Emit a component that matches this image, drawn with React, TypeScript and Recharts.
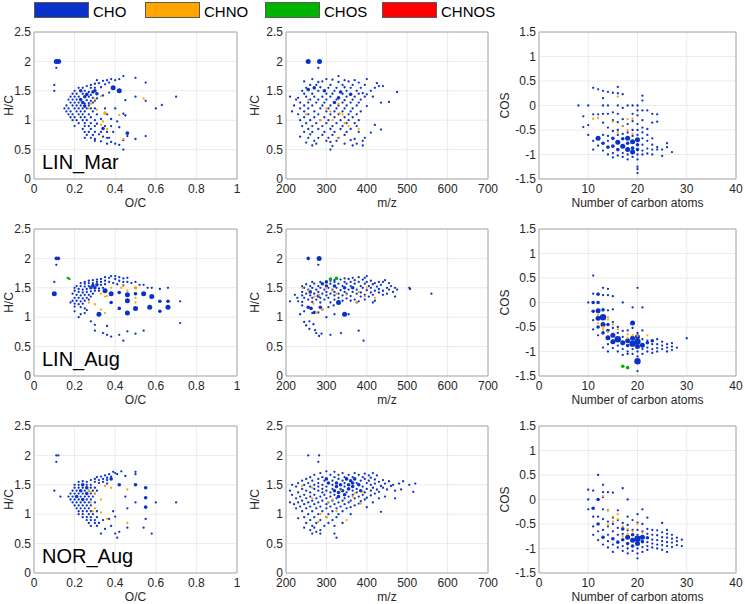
import React from 'react';
import { ScatterChart, Scatter, XAxis, YAxis, CartesianGrid, ReferenceArea } from 'recharts';

type Pt = number[]; // [x, y, sizeClass?]

// ---------- axes ----------
const ocTicks = [0, 0.2, 0.4, 0.6, 0.8, 1];
const hcTicks = [0, 0.5, 1, 1.5, 2, 2.5];
const mzTicks = [200, 300, 400, 500, 600, 700];
const cTicks = [0, 10, 20, 30, 40];
const cosTicks = [-1.5, -1, -0.5, 0, 0.5, 1, 1.5];

const sampleNames = ['LIN_Mar', 'LIN_Aug', 'NOR_Aug'];
const groupNames = ['CHO', 'CHNO', 'CHOS', 'CHNOS'];

// ---------- LIN_Mar ----------
const linMarVkCho: Pt[] = [
  [0.11, 2, 3], [0.12, 2, 3], [0.125, 2, 2], [0.11, 1.89], [0.1, 1.6], [0.1, 1.5],
  [0.22, 1.55], [0.24, 1.55],
  [0.2, 1.5], [0.23, 1.5, 2], [0.25, 1.5], [0.27, 1.48],
  [0.19, 1.45], [0.21, 1.45], [0.24, 1.45], [0.26, 1.44, 2], [0.28, 1.43],
  [0.18, 1.4], [0.2, 1.4], [0.22, 1.4], [0.25, 1.4, 2], [0.27, 1.4], [0.29, 1.38], [0.31, 1.37],
  [0.17, 1.35], [0.19, 1.35], [0.21, 1.35], [0.23, 1.35, 2], [0.26, 1.34], [0.28, 1.33], [0.3, 1.33],
  [0.18, 1.3], [0.2, 1.3], [0.22, 1.3], [0.24, 1.3, 2], [0.25, 1.28], [0.27, 1.29], [0.29, 1.3],
  [0.16, 1.25], [0.19, 1.25], [0.21, 1.25], [0.23, 1.25], [0.25, 1.24, 2], [0.27, 1.25],
  [0.15, 1.2], [0.17, 1.2], [0.2, 1.2], [0.22, 1.2], [0.24, 1.2], [0.26, 1.2], [0.28, 1.2], [0.3, 1.2],
  [0.16, 1.15], [0.18, 1.15], [0.21, 1.15], [0.23, 1.15], [0.25, 1.15], [0.29, 1.15],
  [0.17, 1.1], [0.19, 1.1], [0.22, 1.1], [0.24, 1.1], [0.27, 1.1], [0.31, 1.1],
  [0.18, 1.05], [0.2, 1.05], [0.23, 1.05], [0.25, 1.05], [0.28, 1.05],
  [0.19, 1], [0.21, 1], [0.24, 1], [0.26, 1], [0.3, 1], [0.33, 1.02],
  [0.22, 0.95], [0.25, 0.95], [0.28, 0.95], [0.31, 0.94],
  [0.2, 0.9], [0.25, 0.9], [0.27, 0.9], [0.3, 0.9], [0.35, 0.9],
  [0.24, 0.85], [0.28, 0.85], [0.34, 0.86, 2],
  [0.25, 0.8], [0.27, 0.8], [0.3, 0.8], [0.33, 0.8], [0.36, 0.8],
  [0.26, 0.75], [0.29, 0.75], [0.32, 0.76],
  [0.25, 0.7], [0.28, 0.7], [0.3, 0.68], [0.37, 0.7],
  [0.3, 0.65], [0.33, 0.64], [0.38, 0.63],
  [0.36, 0.6], [0.4, 0.6],
  [0.26, 1.58], [0.28, 1.6], [0.28, 1.55], [0.3, 1.62], [0.3, 1.55], [0.31, 1.68], [0.32, 1.63],
  [0.33, 1.56], [0.34, 1.67], [0.35, 1.61], [0.36, 1.68], [0.37, 1.64], [0.38, 1.7], [0.39, 1.55, 3],
  [0.4, 1.68], [0.42, 1.7], [0.42, 1.5, 3], [0.44, 1.75], [0.3, 1.5, 2], [0.31, 1.45, 2], [0.29, 1.48, 2],
  [0.34, 1.42], [0.37, 1.47],
  [0.35, 1.2], [0.36, 1.1], [0.38, 1.02], [0.4, 1.2], [0.41, 0.98], [0.42, 0.88], [0.38, 0.9],
  [0.39, 0.8], [0.34, 0.72], [0.36, 0.7],
  [0.5, 1.72], [0.55, 1.64], [0.5, 1.4], [0.55, 1.33], [0.6, 1.2], [0.63, 1.26], [0.7, 1.4],
  [0.45, 1.34], [0.44, 1.11], [0.45, 1.08], [0.46, 0.78, 2], [0.46, 0.73], [0.5, 0.68], [0.55, 0.73],
  [0.44, 0.5], [0.42, 0.58], [0.44, 0.66],
];
const linMarVkChno: Pt[] = [
  [0.28, 1.28], [0.31, 1.18], [0.33, 1.41], [0.34, 0.98], [0.33, 0.92], [0.35, 1.12, 2],
  [0.42, 1.09], [0.44, 0.68], [0.54, 1.37], [0.36, 0.85], [0.27, 1.2], [0.3, 1.35],
];
const linMarMzCho: Pt[] = [
  [255, 2, 3], [283, 2, 3], [280, 1.89],
  [330, 1.75],
  [265, 1.7], [300, 1.7], [315, 1.69], [345, 1.68], [370, 1.68], [400, 1.7],
  [245, 1.66], [280, 1.65], [290, 1.66], [330, 1.65], [355, 1.66], [380, 1.64], [425, 1.63],
  [260, 1.6], [275, 1.6], [310, 1.6], [340, 1.6], [365, 1.6], [395, 1.6], [430, 1.58], [440, 1.58],
  [250, 1.55], [270, 1.55, 2], [285, 1.56], [305, 1.55], [325, 1.55], [345, 1.56], [360, 1.55], [385, 1.55], [420, 1.55],
  [240, 1.5], [255, 1.52, 2], [280, 1.5], [295, 1.5, 2], [320, 1.5], [335, 1.48, 2], [350, 1.5], [375, 1.5], [390, 1.46], [410, 1.5], [475, 1.48],
  [245, 1.45], [265, 1.45], [300, 1.45], [315, 1.45], [340, 1.45], [360, 1.44, 2], [380, 1.45], [400, 1.44],
  [210, 1.4], [230, 1.38], [250, 1.4], [270, 1.4], [290, 1.4], [310, 1.4], [330, 1.38, 2], [350, 1.4], [370, 1.4], [395, 1.4], [415, 1.4],
  [225, 1.35], [260, 1.35], [280, 1.35], [300, 1.35], [325, 1.35], [345, 1.34], [365, 1.35], [385, 1.35],
  [235, 1.3], [255, 1.3], [275, 1.3], [295, 1.3], [320, 1.3, 2], [340, 1.3], [360, 1.3], [380, 1.3], [435, 1.3], [455, 1.31],
  [220, 1.25], [245, 1.25], [265, 1.25], [290, 1.25], [310, 1.25], [330, 1.25], [350, 1.25], [375, 1.25], [400, 1.24],
  [235, 1.2], [255, 1.2], [285, 1.2], [305, 1.2], [325, 1.2], [345, 1.2], [365, 1.2],
  [215, 1.15], [245, 1.15], [270, 1.15], [300, 1.15], [320, 1.15], [340, 1.15], [360, 1.15], [385, 1.15],
  [230, 1.1], [255, 1.1], [280, 1.1], [310, 1.1], [330, 1.1], [355, 1.1], [375, 1.1],
  [245, 1.05], [270, 1.05], [295, 1.05], [320, 1.05], [345, 1.05], [365, 1.05],
  [235, 1], [260, 1], [285, 1], [305, 1], [335, 1], [355, 1], [380, 1],
  [250, 0.95], [275, 0.95], [300, 0.95], [325, 0.95], [350, 0.95], [370, 0.95],
  [240, 0.9], [265, 0.9], [290, 0.9], [315, 0.9], [340, 0.9], [375, 0.9], [420, 0.92],
  [255, 0.85], [280, 0.85], [310, 0.85], [335, 0.85], [360, 0.85], [435, 0.84],
  [245, 0.8], [265, 0.8], [295, 0.8], [320, 0.8], [350, 0.8], [380, 0.8], [410, 0.79],
  [260, 0.76], [290, 0.75], [315, 0.75], [345, 0.75],
  [235, 0.72], [255, 0.7], [280, 0.7], [305, 0.7], [330, 0.7], [370, 0.68], [395, 0.7],
  [270, 0.65], [300, 0.65], [325, 0.65], [360, 0.66], [390, 0.65],
  [250, 0.62], [275, 0.6], [310, 0.63], [345, 0.6], [375, 0.6],
  [265, 0.57], [315, 0.56], [365, 0.57], [390, 0.57],
  [310, 0.5],
];
const linMarMzChno: Pt[] = [
  [255, 1.35], [250, 1.1], [285, 1], [300, 1.2], [310, 1.15], [330, 1.28], [333, 1.12],
  [340, 1.1], [345, 0.95], [355, 0.9], [380, 0.85], [328, 0.7], [315, 1],
];
const linMarCCho: Pt[] = [
  [8, 0], [9, -0.22], [9, -0.44], [10, 0], [10, -0.4], [10, -0.6],
  [11, 0.36], [11, -0.18], [11, -0.9], [11, -0.72],
  [12, 0.33], [12, -0.18], [12, -0.67, 3], [12, -0.82],
  [13, 0.3], [13, 0.15], [13, 0], [13, -0.17], [13, -0.35], [13, -0.6], [13, -0.77, 2], [13, -0.92],
  [14, 0.28], [14, 0], [14, -0.17], [14, -0.45], [14, -0.62], [14, -0.72], [14, -0.85, 2], [14, -1],
  [15, 0.26], [15, -0.14], [15, -0.3], [15, -0.52], [15, -0.67, 2], [15, -0.83, 2], [15, -0.97], [15, -1.06],
  [16, 0.38], [16, 0.25], [16, 0], [16, -0.17], [16, -0.34], [16, -0.5], [16, -0.6], [16, -0.75, 3], [16, -0.9, 2], [16, -1.02],
  [17, 0.23], [17, -0.05], [17, -0.28], [17, -0.42], [17, -0.58], [17, -0.68, 2], [17, -0.83, 3], [17, -0.97], [17, -1.05],
  [18, 0], [18, -0.38], [18, -0.55], [18, -0.67, 3], [18, -0.77, 2], [18, -0.9, 3], [18, -1], [18, -1.1],
  [19, 0], [19, -0.17], [19, -0.32], [19, -0.5], [19, -0.62], [19, -0.74, 3], [19, -0.87, 2], [19, -0.95, 3], [19, -1.05],
  [20, 0], [20, -0.1], [20, -0.2], [20, -0.38], [20, -0.5], [20, -0.6], [20, -0.7, 3], [20, -0.8, 2], [20, -0.9, 2],
  [20, -1], [20, -1.1], [20, -1.25], [20, -1.3], [20, -1.38],
  [21, 0.2], [21, 0.1], [21, -0.1], [21, -0.3], [21, -0.45], [21, -0.55], [21, -0.67], [21, -0.8], [21, -0.92], [21, -1],
  [22, -0.1], [22, -0.48], [22, -0.6], [22, -0.72], [22, -0.88], [22, -0.98],
  [23, -0.17], [23, -0.35], [23, -0.67], [23, -0.8], [23, -0.9], [23, -1],
  [24, -0.18], [24, -0.33], [24, -0.85], [24, -0.9],
  [25, -0.9], [25, -1.03], [26, -0.77], [26, -0.85], [27, -0.95],
];
const linMarCChno: Pt[] = [
  [11, -0.27], [12, -0.25], [15, -0.33], [16, 0.18], [17, -0.42], [18, -0.28], [18, -0.5],
  [19, -0.27], [16, -0.55], [19, -0.58],
];

// ---------- LIN_Aug ----------
const linAugVkCho: Pt[] = [
  [0.11, 2, 2], [0.12, 2, 2], [0.11, 1.89], [0.1, 1.6], [0.1, 1.4, 3],
  [0.25, 1.6], [0.27, 1.62], [0.29, 1.63], [0.31, 1.64], [0.33, 1.65],
  [0.23, 1.58], [0.25, 1.57], [0.27, 1.58], [0.29, 1.58], [0.31, 1.6], [0.33, 1.6], [0.35, 1.62],
  [0.21, 1.53], [0.23, 1.53], [0.25, 1.52], [0.27, 1.53], [0.29, 1.54, 2], [0.31, 1.55, 2], [0.33, 1.55], [0.35, 1.56],
  [0.2, 1.5], [0.22, 1.48], [0.24, 1.47], [0.26, 1.48], [0.28, 1.5, 2], [0.3, 1.5, 2], [0.32, 1.49], [0.34, 1.5],
  [0.2, 1.45], [0.22, 1.43], [0.24, 1.42], [0.26, 1.43], [0.28, 1.44], [0.3, 1.45], [0.32, 1.45],
  [0.19, 1.4], [0.21, 1.38], [0.23, 1.37], [0.25, 1.38], [0.27, 1.38], [0.29, 1.4],
  [0.2, 1.33], [0.22, 1.33], [0.24, 1.32], [0.26, 1.33], [0.28, 1.35],
  [0.19, 1.28], [0.21, 1.28], [0.23, 1.27], [0.25, 1.28], [0.27, 1.3],
  [0.18, 1.25], [0.2, 1.23], [0.22, 1.22], [0.24, 1.23],
  [0.2, 1.18], [0.23, 1.17], [0.25, 1.15],
  [0.35, 1.68], [0.37, 1.67], [0.38, 1.7], [0.4, 1.7], [0.42, 1.68], [0.44, 1.66], [0.46, 1.67],
  [0.4, 1.65], [0.42, 1.62], [0.44, 1.6], [0.46, 1.6], [0.48, 1.58], [0.5, 1.6], [0.52, 1.55],
  [0.54, 1.55], [0.56, 1.5], [0.58, 1.5], [0.62, 1.48], [0.66, 1.5], [0.37, 1.6], [0.39, 1.58],
  [0.41, 1.56], [0.44, 1.54],
  [0.35, 1.45, 3], [0.38, 1.4, 3], [0.42, 1.42, 2], [0.46, 1.38, 3], [0.46, 1.28, 3], [0.5, 1.4, 2],
  [0.54, 1.4, 3], [0.58, 1.35, 3], [0.5, 1.15, 3], [0.46, 1.07, 3], [0.42, 1.15, 2], [0.38, 1.25, 2],
  [0.32, 1.05, 3], [0.57, 1.17, 3], [0.66, 1.17, 3], [0.62, 1.27, 2], [0.66, 1.27, 2], [0.62, 1.1, 2],
  [0.72, 1.27], [0.72, 0.9],
  [0.22, 1], [0.25, 1.07], [0.28, 0.93], [0.3, 0.87], [0.3, 0.77], [0.34, 0.73], [0.36, 0.7],
  [0.38, 0.67], [0.42, 0.7], [0.44, 0.6], [0.46, 0.76], [0.5, 0.72], [0.54, 0.77], [0.36, 0.85],
  [0.2, 1.1], [0.23, 1.05], [0.26, 1.12],
];
const linAugVkChno: Pt[] = [
  [0.27, 1.25], [0.3, 1.22], [0.33, 1.4], [0.35, 1.35], [0.36, 1.36], [0.33, 1.13], [0.35, 1.07],
  [0.43, 1.5], [0.46, 1.45], [0.5, 1.5, 2], [0.5, 1.25], [0.5, 1.33], [0.44, 1.53], [0.38, 1.5],
];
const linAugVkChos: Pt[] = [[0.165, 1.67], [0.17, 1.66], [0.175, 1.65]];
const linAugMzCho: Pt[] = [
  [255, 2, 2], [282, 2, 3], [280, 1.89],
  [380, 1.68], [395, 1.67], [400, 1.7],
  [345, 1.66], [355, 1.65], [365, 1.67],
  [310, 1.62], [320, 1.63], [335, 1.64], [370, 1.63], [390, 1.64], [410, 1.62], [430, 1.6], [445, 1.63],
  [265, 1.6], [285, 1.6], [300, 1.6, 2], [320, 1.6], [345, 1.6], [360, 1.6], [380, 1.6], [400, 1.6], [420, 1.58], [440, 1.6], [455, 1.58],
  [250, 1.56], [270, 1.57], [290, 1.57, 2], [310, 1.57], [330, 1.57], [350, 1.57], [370, 1.57], [395, 1.57], [415, 1.56], [435, 1.55], [460, 1.53],
  [240, 1.53], [260, 1.53], [280, 1.53], [300, 1.53, 2], [320, 1.53, 2], [340, 1.53], [360, 1.53], [385, 1.53], [405, 1.53], [425, 1.52], [450, 1.5], [470, 1.5],
  [245, 1.5], [265, 1.5], [285, 1.5], [305, 1.5], [325, 1.5], [345, 1.5, 2], [365, 1.5, 2], [390, 1.5], [410, 1.5], [430, 1.48], [455, 1.47], [475, 1.47],
  [255, 1.47], [275, 1.47], [295, 1.47], [315, 1.47], [335, 1.46], [355, 1.47], [375, 1.47], [400, 1.46], [420, 1.45], [440, 1.45], [465, 1.43],
  [240, 1.43], [260, 1.43, 2], [280, 1.43], [300, 1.43], [320, 1.43], [345, 1.43], [365, 1.43], [385, 1.42], [410, 1.42], [430, 1.42], [450, 1.4],
  [250, 1.4], [270, 1.4], [290, 1.4], [310, 1.4], [330, 1.4], [350, 1.4], [375, 1.4], [395, 1.38], [415, 1.38], [440, 1.38], [470, 1.35],
  [240, 1.37], [260, 1.37], [280, 1.36, 2], [300, 1.37], [320, 1.37], [340, 1.37], [360, 1.36], [385, 1.35], [405, 1.35],
  [245, 1.33], [265, 1.33], [285, 1.33], [305, 1.33], [330, 1.33], [350, 1.32], [370, 1.3], [395, 1.3], [420, 1.28],
  [255, 1.3], [275, 1.3], [295, 1.3], [320, 1.3], [340, 1.28], [360, 1.28], [380, 1.27],
  [240, 1.26], [265, 1.26], [285, 1.25], [310, 1.25], [330, 1.25, 3], [375, 1.25], [415, 1.25],
  [240, 1.2], [245, 1.1], [235, 1.05], [245, 0.92], [250, 0.86], [258, 0.93], [258, 0.8], [265, 1.07],
  [268, 0.88], [272, 0.78], [275, 0.73], [282, 0.68], [288, 0.72], [300, 1], [310, 0.7], [336, 0.73],
  [380, 0.77], [392, 0.6], [320, 1.05], [345, 1.05, 3], [355, 1.05], [270, 1.08, 2], [262, 1.15, 2],
  [285, 1.17, 2], [255, 1.17, 2], [305, 1.17], [318, 1.2], [290, 1.13], [280, 1.08],
  [505, 1.5], [507, 1.48], [560, 1.4], [210, 1.27], [222, 1.38], [230, 1.27], [228, 1.33],
];
const linAugMzChno: Pt[] = [
  [255, 1.45], [270, 1.35], [275, 1.08], [290, 1.13], [268, 1.23], [300, 1.5], [315, 1.45], [325, 1.4],
  [350, 1.38], [375, 1.25], [395, 1.35], [400, 1.5], [420, 1.33], [380, 1.43], [240, 1.5], [282, 1.37],
];
const linAugMzChos: Pt[] = [[310, 1.65, 2], [325, 1.66, 2]];
const linAugCCho: Pt[] = [
  [10, 0],
  [11, 0.55], [11, 0.18], [11, 0, 2], [11, -0.18, 2], [11, -0.36], [11, -0.55],
  [12, 0.17, 2], [12, 0, 2], [12, -0.17, 3], [12, -0.32, 3], [12, -0.5, 2], [12, -0.67],
  [13, 0.3], [13, 0.15], [13, -0.15, 2], [13, -0.3, 4], [13, -0.45, 3], [13, -0.62, 2], [13, -0.92],
  [14, 0.28], [14, 0.15], [14, -0.16], [14, -0.45, 2], [14, -0.57, 2], [14, -0.72, 3], [14, -0.85], [14, -1],
  [15, 0.13], [15, -0.14], [15, -0.4], [15, -0.52], [15, -0.67, 3], [15, -0.8, 3], [15, -0.93],
  [16, -0.5], [16, -0.62], [16, -0.75, 4], [16, -0.88], [16, -1],
  [17, 0], [17, -0.58], [17, -0.7], [17, -0.82, 3], [17, -0.95], [17, -1.07],
  [18, -0.57], [18, -0.78, 3], [18, -0.88, 2], [18, -1], [18, -1.05],
  [19, -0.1], [19, -0.42, 3], [19, -0.52], [19, -0.73, 3], [19, -0.84, 4], [19, -0.95], [19, -1.05],
  [20, 0.3], [20, -0.62], [20, -0.7, 3], [20, -0.8, 4], [20, -0.9, 3], [20, -1], [20, -1.1], [20, -1.2, 4], [20, -1.4],
  [21, -0.1], [21, -0.57], [21, -0.75], [21, -0.87, 3], [21, -0.95], [21, -1.05],
  [22, -0.78], [22, -0.82, 2], [22, -0.92], [22, -1],
  [23, -0.78, 2], [23, -0.85], [23, -0.95], [23, -1.03],
  [24, -0.75], [24, -0.85], [24, -0.93], [24, -1],
  [25, -0.8], [25, -0.88], [25, -0.95],
  [26, -0.85], [26, -0.92], [26, -1],
  [27, -0.83], [27, -0.9], [27, -0.97],
  [28, -0.92], [30, -0.73],
];
const linAugCChno: Pt[] = [
  [12, -0.25], [12, -0.42], [13, -0.5], [14, -0.3], [14, -0.35], [15, -0.45], [16, -0.55],
  [18, -0.65], [18, -0.72], [19, -0.67], [20, -0.68], [22, -0.67], [13, -0.55], [14, -0.6],
];
const linAugCChos: Pt[] = [[17, -1.3, 2], [18, -1.33, 2]];

// ---------- NOR_Aug ----------
const norVkCho: Pt[] = [
  [0.11, 2], [0.12, 2], [0.11, 1.89], [0.1, 1.4], [0.13, 1.3],
  [0.22, 1.55], [0.24, 1.56], [0.26, 1.55],
  [0.2, 1.5], [0.22, 1.5], [0.24, 1.5, 2], [0.26, 1.5], [0.28, 1.5],
  [0.2, 1.45], [0.22, 1.45], [0.24, 1.45], [0.26, 1.45, 2], [0.28, 1.45], [0.3, 1.45],
  [0.19, 1.4], [0.21, 1.4], [0.23, 1.4, 2], [0.25, 1.4], [0.27, 1.4], [0.29, 1.4], [0.31, 1.4],
  [0.18, 1.35], [0.2, 1.35], [0.22, 1.35], [0.24, 1.35], [0.26, 1.35, 2], [0.28, 1.35], [0.3, 1.35],
  [0.17, 1.3], [0.19, 1.3], [0.21, 1.3, 2], [0.23, 1.3], [0.25, 1.3], [0.27, 1.3], [0.29, 1.3],
  [0.18, 1.25], [0.2, 1.25], [0.22, 1.25], [0.24, 1.25, 2], [0.26, 1.25], [0.28, 1.25],
  [0.19, 1.2], [0.21, 1.2], [0.23, 1.2], [0.25, 1.2], [0.27, 1.2], [0.3, 1.2],
  [0.2, 1.15], [0.22, 1.15], [0.24, 1.15], [0.26, 1.15], [0.28, 1.15],
  [0.21, 1.1], [0.23, 1.1], [0.25, 1.1], [0.27, 1.1],
  [0.22, 1.05], [0.24, 1.05], [0.26, 1.05], [0.28, 1.05], [0.31, 1.05],
  [0.22, 1], [0.24, 1], [0.27, 1], [0.29, 1],
  [0.24, 0.95], [0.26, 0.95], [0.28, 0.95], [0.31, 0.95],
  [0.26, 0.9], [0.28, 0.9], [0.3, 0.9],
  [0.27, 0.85], [0.3, 0.85], [0.32, 0.85],
  [0.28, 0.8], [0.31, 0.8],
  [0.28, 1.58], [0.3, 1.6], [0.31, 1.63], [0.32, 1.58], [0.33, 1.64], [0.34, 1.6], [0.35, 1.66],
  [0.36, 1.62], [0.37, 1.68], [0.38, 1.64], [0.39, 1.72], [0.4, 1.7], [0.41, 1.68], [0.43, 1.73],
  [0.45, 1.65], [0.5, 1.72], [0.5, 1.68], [0.3, 1.55], [0.32, 1.53], [0.34, 1.55], [0.36, 1.58],
  [0.38, 1.6, 2], [0.36, 1.52],
  [0.42, 1.5, 2], [0.5, 1.5, 2], [0.55, 1.45, 2], [0.55, 1.28, 2], [0.55, 1.12, 2], [0.5, 1.2],
  [0.45, 1.3], [0.46, 1.1], [0.6, 1.2], [0.7, 1.2], [0.55, 0.92], [0.54, 0.77], [0.58, 0.67],
  [0.46, 0.77], [0.42, 0.7], [0.4, 0.67], [0.41, 0.6], [0.38, 0.8], [0.35, 0.75], [0.33, 0.67],
  [0.37, 0.92], [0.34, 0.9], [0.4, 0.96], [0.39, 1.05],
];
const norVkChno: Pt[] = [
  [0.27, 1.4], [0.28, 1.38], [0.3, 1.35], [0.33, 1.25], [0.3, 1.1], [0.33, 1.03], [0.36, 0.92],
  [0.46, 0.85], [0.35, 1.48], [0.38, 1.45], [0.46, 1.42], [0.28, 1.2], [0.29, 1.05],
];
const norMzCho: Pt[] = [
  [255, 2], [282, 2], [280, 1.89],
  [300, 1.73], [320, 1.72],
  [285, 1.7], [340, 1.7], [370, 1.7], [395, 1.69], [415, 1.7],
  [270, 1.67], [310, 1.67], [330, 1.67], [355, 1.67], [380, 1.67], [405, 1.66], [425, 1.66],
  [260, 1.63], [290, 1.63], [320, 1.63], [345, 1.63], [365, 1.63], [390, 1.63], [410, 1.62],
  [250, 1.6], [280, 1.6], [300, 1.6, 2], [330, 1.6], [350, 1.6, 2], [370, 1.6, 2], [395, 1.6], [420, 1.59], [440, 1.58],
  [240, 1.57], [265, 1.57], [295, 1.57], [315, 1.57], [340, 1.57], [360, 1.57, 2], [385, 1.57], [405, 1.57], [430, 1.55], [455, 1.56], [490, 1.56],
  [230, 1.53], [255, 1.53], [280, 1.53], [305, 1.53, 2], [325, 1.53, 2], [345, 1.53], [365, 1.53, 2], [375, 1.53],
  [400, 1.53], [420, 1.52], [445, 1.52], [465, 1.5], [480, 1.52], [520, 1.52],
  [215, 1.5], [245, 1.5], [270, 1.5], [290, 1.5], [315, 1.5], [335, 1.5, 2], [355, 1.5, 2], [380, 1.5, 2], [410, 1.5], [435, 1.48], [460, 1.48], [505, 1.5],
  [225, 1.47], [260, 1.47], [280, 1.47], [300, 1.47], [325, 1.47, 2], [345, 1.47], [365, 1.47, 2], [390, 1.47], [415, 1.45], [440, 1.45],
  [240, 1.43], [270, 1.43], [290, 1.43], [315, 1.43], [335, 1.43], [355, 1.43, 2], [375, 1.43], [400, 1.43], [425, 1.42], [450, 1.42], [470, 1.4], [485, 1.42],
  [210, 1.4], [250, 1.4], [280, 1.4], [300, 1.4], [320, 1.4, 2], [340, 1.4, 2], [365, 1.4], [385, 1.4, 2], [410, 1.4], [430, 1.38], [515, 1.38],
  [230, 1.37], [260, 1.37], [290, 1.37], [310, 1.37], [330, 1.37, 2], [350, 1.37], [375, 1.37], [395, 1.37], [420, 1.35],
  [215, 1.33], [245, 1.33], [270, 1.33], [295, 1.33], [320, 1.33], [345, 1.33, 2], [365, 1.33], [390, 1.33], [410, 1.32], [445, 1.3],
  [235, 1.3], [260, 1.3], [285, 1.3], [310, 1.3], [330, 1.3, 2], [355, 1.3], [380, 1.3], [400, 1.28], [430, 1.27], [470, 1.27],
  [225, 1.27], [250, 1.27], [275, 1.27], [300, 1.27], [325, 1.27], [345, 1.27], [370, 1.27], [395, 1.25],
  [240, 1.23], [265, 1.23], [290, 1.23], [315, 1.23], [340, 1.23], [360, 1.23], [385, 1.22], [415, 1.2],
  [210, 1.2], [230, 1.2], [255, 1.2], [280, 1.2], [305, 1.2], [330, 1.2], [355, 1.2], [380, 1.18],
  [220, 1.17], [245, 1.17], [270, 1.17], [300, 1.17], [320, 1.17], [345, 1.17], [370, 1.15],
  [235, 1.13], [260, 1.13], [285, 1.13], [310, 1.13], [335, 1.13], [360, 1.12], [400, 1.12],
  [225, 1.1], [250, 1.1], [275, 1.1], [300, 1.1], [325, 1.1], [350, 1.1],
  [240, 1.05], [265, 1.05], [290, 1.05], [315, 1.05], [340, 1.05], [435, 1.04],
  [255, 1], [280, 1], [305, 1], [330, 1], [360, 1],
  [230, 0.93], [245, 0.95], [270, 0.95], [300, 0.95], [325, 0.95],
  [260, 0.9], [285, 0.9], [315, 0.9],
  [250, 0.85], [275, 0.85], [305, 0.85], [340, 0.85],
  [265, 0.8], [295, 0.8], [320, 0.8],
  [245, 0.77], [270, 0.77], [260, 0.73], [285, 0.73], [275, 0.7], [265, 0.67], [285, 0.67], [320, 0.67], [325, 0.6],
];
const norMzChno: Pt[] = [
  [240, 1.48], [265, 1.45], [265, 1.27], [285, 1], [280, 0.87], [300, 0.95], [305, 1.2], [315, 1.25],
  [335, 1.4], [350, 0.9], [365, 1.3], [385, 1.18], [390, 1.38], [370, 1.35], [325, 1.05],
];
const norCCho: Pt[] = [
  [10, 0.2], [10, 0], [10, -0.2],
  [11, 0.18], [11, -0.18, 2], [11, -0.35], [11, -0.55], [11, -0.72],
  [12, 0.5], [12, 0, 2], [12, -0.35], [12, -0.5, 2], [12, -0.65], [12, -0.83],
  [13, 0.3], [13, 0.15], [13, 0.05], [13, -0.2], [13, -0.4], [13, -0.62], [13, -0.77, 2], [13, -0.92],
  [14, 0.15], [14, -0.22], [14, -0.45], [14, -0.55], [14, -0.72], [14, -0.85], [14, -0.98],
  [15, 0.14], [15, -0.37], [15, -0.5], [15, -0.65], [15, -0.8, 2], [15, -0.92], [15, -1.07],
  [16, -0.22], [16, -0.42], [16, -0.58], [16, -0.72], [16, -0.87, 2], [16, -0.98],
  [17, 0.23], [17, -0.48], [17, -0.6, 2], [17, -0.7], [17, -0.82, 2], [17, -0.95], [17, -1.05],
  [18, 0], [18, -0.35], [18, -0.52], [18, -0.63], [18, -0.77, 3], [18, -0.9, 2], [18, -1], [18, -1.1],
  [19, -0.42], [19, -0.62], [19, -0.72, 2], [19, -0.83, 3], [19, -0.95, 2], [19, -1.05],
  [20, -0.3], [20, -0.47], [20, -0.62], [20, -0.72], [20, -0.8, 4], [20, -0.9, 3], [20, -1], [20, -1.1], [20, -1.2],
  [21, -0.2], [21, -0.5], [21, -0.65], [21, -0.77, 3], [21, -0.86, 2], [21, -0.97], [21, -1.07],
  [22, -0.37], [22, -0.6], [22, -0.7], [22, -0.78, 2], [22, -0.87], [22, -0.95], [22, -1.03],
  [23, -0.62], [23, -0.72], [23, -0.82], [23, -0.9], [23, -0.98],
  [24, -0.63], [24, -0.73], [24, -0.83], [24, -0.92], [24, -1],
  [25, -0.48], [25, -0.67], [25, -0.77], [25, -0.85], [25, -0.93], [25, -1.03],
  [26, -0.62], [26, -0.7], [26, -0.78], [26, -0.87], [26, -0.95], [26, -1.07],
  [27, -0.72], [27, -0.8], [27, -0.88], [27, -0.97],
  [28, -0.78], [28, -0.85], [28, -0.93],
  [29, -0.82], [29, -0.95],
];
const norCChno: Pt[] = [
  [13, 0.07], [14, -0.22], [15, -0.35], [16, -0.3], [16, -0.4], [15, -0.45], [17, -0.55],
  [18, -0.6], [18, -0.7], [19, -0.65], [20, -0.5], [21, -0.68], [14, -0.52], [17, -0.75],
];

// ---------- styling / layout ----------
const COLORS: Record<string, string> = {
  CHO: '#0a32c8',
  CHNO: '#ffa500',
  CHOS: '#00b400',
  CHNOS: '#ff0000',
};
const DOT_R = [0, 1.15, 1.8, 2.5, 3.2];
const FONT = 'Arial, "Liberation Sans", Helvetica, sans-serif';
const TEXT = '#262626';
const PLOT_H = 147;
const COLS = [
  { left: 34, width: 203, labelX: 9 },
  { left: 286, width: 202, labelX: 255 },
  { left: 539, width: 197, labelX: 505 },
];
const ROW_TOPS = [32, 229, 426];
const LEGEND_X = [34, 145, 265, 382];

const toRows = (pts: Pt[]) => pts.map(([x, y, s = 1]) => ({ x, y, s }));

const dotShape = (color: string) => (p: any) => (
  <circle cx={p.cx} cy={p.cy} r={DOT_R[p.payload?.s ?? 1]} fill={color} />
);

type PanelProps = {
  left: number;
  top: number;
  width: number;
  xDomain: number[];
  xTicks: number[];
  yDomain: number[];
  yTicks: number[];
  series: { group: string; pts: Pt[] }[];
};

function Panel({ left, top, width, xDomain, xTicks, yDomain, yTicks, series }: PanelProps) {
  const yw = 30;
  const mt = 6;
  const mr = 10;
  const xh = 22;
  return (
    <div style={{ position: 'absolute', left: left - yw, top: top - mt }}>
      <ScatterChart
        width={yw + width + mr}
        height={mt + PLOT_H + xh}
        margin={{ top: mt, right: mr, bottom: 0, left: 0 }}
      >
        <CartesianGrid stroke="#ebebeb" />
        <XAxis
          type="number"
          dataKey="x"
          domain={xDomain}
          ticks={xTicks}
          interval={0}
          allowDataOverflow
          axisLine={false}
          tickLine={false}
          height={xh}
          tickSize={3}
          tickMargin={2}
          tick={{ fill: TEXT, fontSize: 12 }}
        />
        <YAxis
          type="number"
          dataKey="y"
          domain={yDomain}
          ticks={yTicks}
          interval={0}
          allowDataOverflow
          axisLine={false}
          tickLine={false}
          width={yw}
          tickSize={1}
          tickMargin={2}
          tick={{ fill: TEXT, fontSize: 12 }}
        />
        {series.map((s) => (
          <Scatter
            key={s.group}
            name={s.group}
            data={toRows(s.pts)}
            fill={COLORS[s.group]}
            shape={dotShape(COLORS[s.group])}
            isAnimationActive={false}
          />
        ))}
        <ReferenceArea
          x1={xDomain[0]}
          x2={xDomain[1]}
          y1={yDomain[0]}
          y2={yDomain[1]}
          fill="none"
          fillOpacity={0}
          stroke="#a8a8a8"
          strokeWidth={1}
        />
      </ScatterChart>
    </div>
  );
}

const rowsData = [
  {
    vk: [{ group: 'CHO', pts: linMarVkCho }, { group: 'CHNO', pts: linMarVkChno }],
    mz: [{ group: 'CHO', pts: linMarMzCho }, { group: 'CHNO', pts: linMarMzChno }],
    c: [{ group: 'CHO', pts: linMarCCho }, { group: 'CHNO', pts: linMarCChno }],
  },
  {
    vk: [{ group: 'CHO', pts: linAugVkCho }, { group: 'CHNO', pts: linAugVkChno }, { group: 'CHOS', pts: linAugVkChos }],
    mz: [{ group: 'CHO', pts: linAugMzCho }, { group: 'CHNO', pts: linAugMzChno }, { group: 'CHOS', pts: linAugMzChos }],
    c: [{ group: 'CHO', pts: linAugCCho }, { group: 'CHNO', pts: linAugCChno }, { group: 'CHOS', pts: linAugCChos }],
  },
  {
    vk: [{ group: 'CHO', pts: norVkCho }, { group: 'CHNO', pts: norVkChno }],
    mz: [{ group: 'CHO', pts: norMzCho }, { group: 'CHNO', pts: norMzChno }],
    c: [{ group: 'CHO', pts: norCCho }, { group: 'CHNO', pts: norCChno }],
  },
];

export default function App() {
  const xLabels = ['O/C', 'm/z', 'Number of carbon atoms'];
  const yLabels = ['H/C', 'H/C', 'COS'];
  return (
    <div style={{ position: 'absolute', left: 0, top: 0, width: 745, height: 604, background: '#fff', fontFamily: FONT }}>
      {rowsData.map((row, r) => (
        <React.Fragment key={r}>
          <Panel left={COLS[0].left} top={ROW_TOPS[r]} width={COLS[0].width}
            xDomain={[0, 1]} xTicks={ocTicks} yDomain={[0, 2.5]} yTicks={hcTicks} series={row.vk} />
          <Panel left={COLS[1].left} top={ROW_TOPS[r]} width={COLS[1].width}
            xDomain={[200, 700]} xTicks={mzTicks} yDomain={[0, 2.5]} yTicks={hcTicks} series={row.mz} />
          <Panel left={COLS[2].left} top={ROW_TOPS[r]} width={COLS[2].width}
            xDomain={[0, 40]} xTicks={cTicks} yDomain={[-1.5, 1.5]} yTicks={cosTicks} series={row.c} />
        </React.Fragment>
      ))}
      <svg width={745} height={604} style={{ position: 'absolute', left: 0, top: 0, pointerEvents: 'none' }}>
        {groupNames.map((g, i) => (
          <g key={g}>
            <rect x={LEGEND_X[i] + 0.5} y={2.5} width={54} height={15} fill={COLORS[g]} stroke="#5a5a5a" strokeWidth={1} />
            <text x={LEGEND_X[i] + 59} y={16.5} fontSize={15} fill="#000">{g}</text>
          </g>
        ))}
        {ROW_TOPS.map((top, r) => (
          <g key={r}>
            {COLS.map((c, ci) => (
              <g key={ci}>
                <text x={c.left + c.width / 2} y={top + PLOT_H + 28} fontSize={12} fill={TEXT} textAnchor="middle">
                  {xLabels[ci]}
                </text>
                <text
                  transform={`translate(${c.labelX + 4},${top + PLOT_H / 2}) rotate(-90)`}
                  fontSize={12}
                  fill={TEXT}
                  textAnchor="middle"
                >
                  {yLabels[ci]}
                </text>
              </g>
            ))}
            <text x={COLS[0].left + 8} y={top + PLOT_H - 10} fontSize={20} fill="#000">{sampleNames[r]}</text>
          </g>
        ))}
      </svg>
    </div>
  );
}
